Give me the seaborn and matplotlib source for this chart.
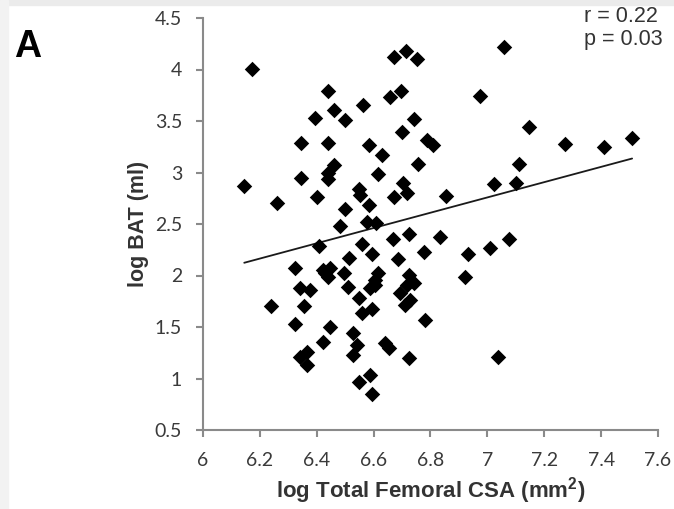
import numpy as np
import pandas as pd
import seaborn as sns
import matplotlib
matplotlib.use("Agg")
import matplotlib.pyplot as plt
from matplotlib.patches import Rectangle

# ---- data ----
femoral_csa = [6.174, 6.145, 6.259, 6.344, 6.344, 6.402, 6.394, 6.439, 6.439, 6.462,
               6.500, 6.440, 6.462, 6.440, 6.500, 6.482, 6.547, 6.553, 6.582, 6.564,
               6.582, 6.631, 6.614, 6.576, 6.610, 6.670, 6.714, 6.753, 6.659, 6.697,
               6.700, 6.743, 6.788, 6.808, 6.756, 6.702, 6.717, 6.673, 6.853, 7.058,
               6.974, 7.146, 7.272, 7.411, 7.509, 7.111, 7.023, 7.100, 6.408, 6.559,
               6.594, 6.515, 6.667, 6.723, 6.776, 6.833, 6.684, 6.323, 6.423, 6.447,
               6.441, 6.430, 6.497, 6.511, 6.617, 6.606, 6.588, 6.606, 6.547, 6.559,
               6.594, 6.723, 6.741, 6.717, 6.694, 6.729, 6.711, 6.341, 6.376, 6.239,
               6.355, 6.323, 6.445, 6.423, 6.526, 6.541, 6.529, 6.641, 6.655, 6.782,
               6.726, 6.341, 6.365, 6.365, 6.547, 6.588, 6.594, 6.933, 7.009, 7.076,
               6.921, 7.038]
log_bat = [4.005, 2.870, 2.707, 3.290, 2.950, 2.765, 3.530, 3.790, 3.290, 3.610,
           3.510, 3.000, 3.070, 2.940, 2.650, 2.480, 2.840, 2.780, 2.680, 3.660,
           3.270, 3.170, 2.985, 2.520, 2.510, 4.120, 4.180, 4.100, 3.736, 3.794,
           3.396, 3.520, 3.316, 3.267, 3.080, 2.895, 2.798, 2.765, 2.772, 4.220,
           3.743, 3.445, 3.277, 3.245, 3.332, 3.083, 2.885, 2.895, 2.286, 2.306,
           2.209, 2.173, 2.354, 2.403, 2.232, 2.370, 2.157, 2.070, 2.053, 2.070,
           1.988, 2.020, 2.020, 1.890, 2.020, 1.957, 1.875, 1.908, 1.778, 1.639,
           1.675, 2.005, 1.924, 1.908, 1.827, 1.762, 1.714, 1.876, 1.859, 1.707,
           1.707, 1.526, 1.497, 1.357, 1.440, 1.325, 1.228, 1.342, 1.293, 1.565,
           1.196, 1.212, 1.260, 1.131, 0.963, 1.034, 0.849, 2.206, 2.270, 2.354,
           1.988, 1.212]
fit_slope = 0.742
fit_intercept = -2.436
x_ticks = [6, 6.2, 6.4, 6.6, 6.8, 7, 7.2, 7.4, 7.6]
x_tick_labels = ["6", "6.2", "6.4", "6.6", "6.8", "7", "7.2", "7.4", "7.6"]
y_ticks = [0.5, 1, 1.5, 2, 2.5, 3, 3.5, 4, 4.5]
y_tick_labels = ["0.5", "1", "1.5", "2", "2.5", "3", "3.5", "4", "4.5"]
stats_text = "r = 0.22\np = 0.03"
panel_label = "A"
x_label = "log Total Femoral CSA (mm$^\\mathregular{2}$)"
y_label = "log BAT (ml)"

sns.set_theme(style="ticks")
plt.rcParams["font.family"] = ["Liberation Sans", "DejaVu Sans"]

fig = plt.figure(figsize=(6.74, 5.09), dpi=100)
fig.patch.set_facecolor("white")
# light grey screenshot border
fig.patches.append(Rectangle((0, 1 - 5/509), 1, 5/509, transform=fig.transFigure,
                             color="#ebebeb", zorder=0))
fig.patches.append(Rectangle((0, 0), 8/674, 1, transform=fig.transFigure,
                             color="#f2f2f2", zorder=0))

ax = fig.add_axes([203/674, 1 - 430/509, 455/674, 412/509])

df = pd.DataFrame({"csa": femoral_csa, "bat": log_bat})
sns.scatterplot(data=df, x="csa", y="bat", marker="D", s=62, color="black",
                edgecolor="black", linewidth=0, ax=ax, zorder=3)

xs = np.array([min(femoral_csa), max(femoral_csa)])
sns.lineplot(x=xs, y=fit_intercept + fit_slope * xs, color="#1a1a1a", lw=1.3,
             ax=ax, zorder=2)

ax.set_xlim(6, 7.6)
ax.set_ylim(0.5, 4.5)
ax.set_xticks(x_ticks)
ax.set_xticklabels(x_tick_labels)
ax.set_yticks(y_ticks)
ax.set_yticklabels(y_tick_labels)
for lab in ax.get_xticklabels() + ax.get_yticklabels():
    lab.set_family(["Lato", "DejaVu Sans"])
    lab.set_fontsize(14)
    lab.set_color("#3a3a3a")

sns.despine(ax=ax)
for sp in ("left", "bottom"):
    ax.spines[sp].set_color("#8a8a8a")
    ax.spines[sp].set_linewidth(1.5)
ax.tick_params(axis="x", length=5, width=1.5, color="#8a8a8a", pad=11)
ax.tick_params(axis="y", length=5, width=1.5, color="#8a8a8a", pad=10)

ax.set_xlabel(x_label, fontsize=16, fontweight="bold", color="#333333", labelpad=4)
ax.set_ylabel(y_label, fontsize=15.5, fontweight="bold", color="#333333", labelpad=4)

fig.text(14/674, 1 - 57/509, panel_label, fontsize=27, fontweight="bold",
         color="black", ha="left", va="baseline")
fig.text(584/674, 1 - 6/509, stats_text, fontsize=15.5, color="#333333",
         ha="left", va="top", linespacing=1.15)

fig.savefig("out.png", dpi=100)
